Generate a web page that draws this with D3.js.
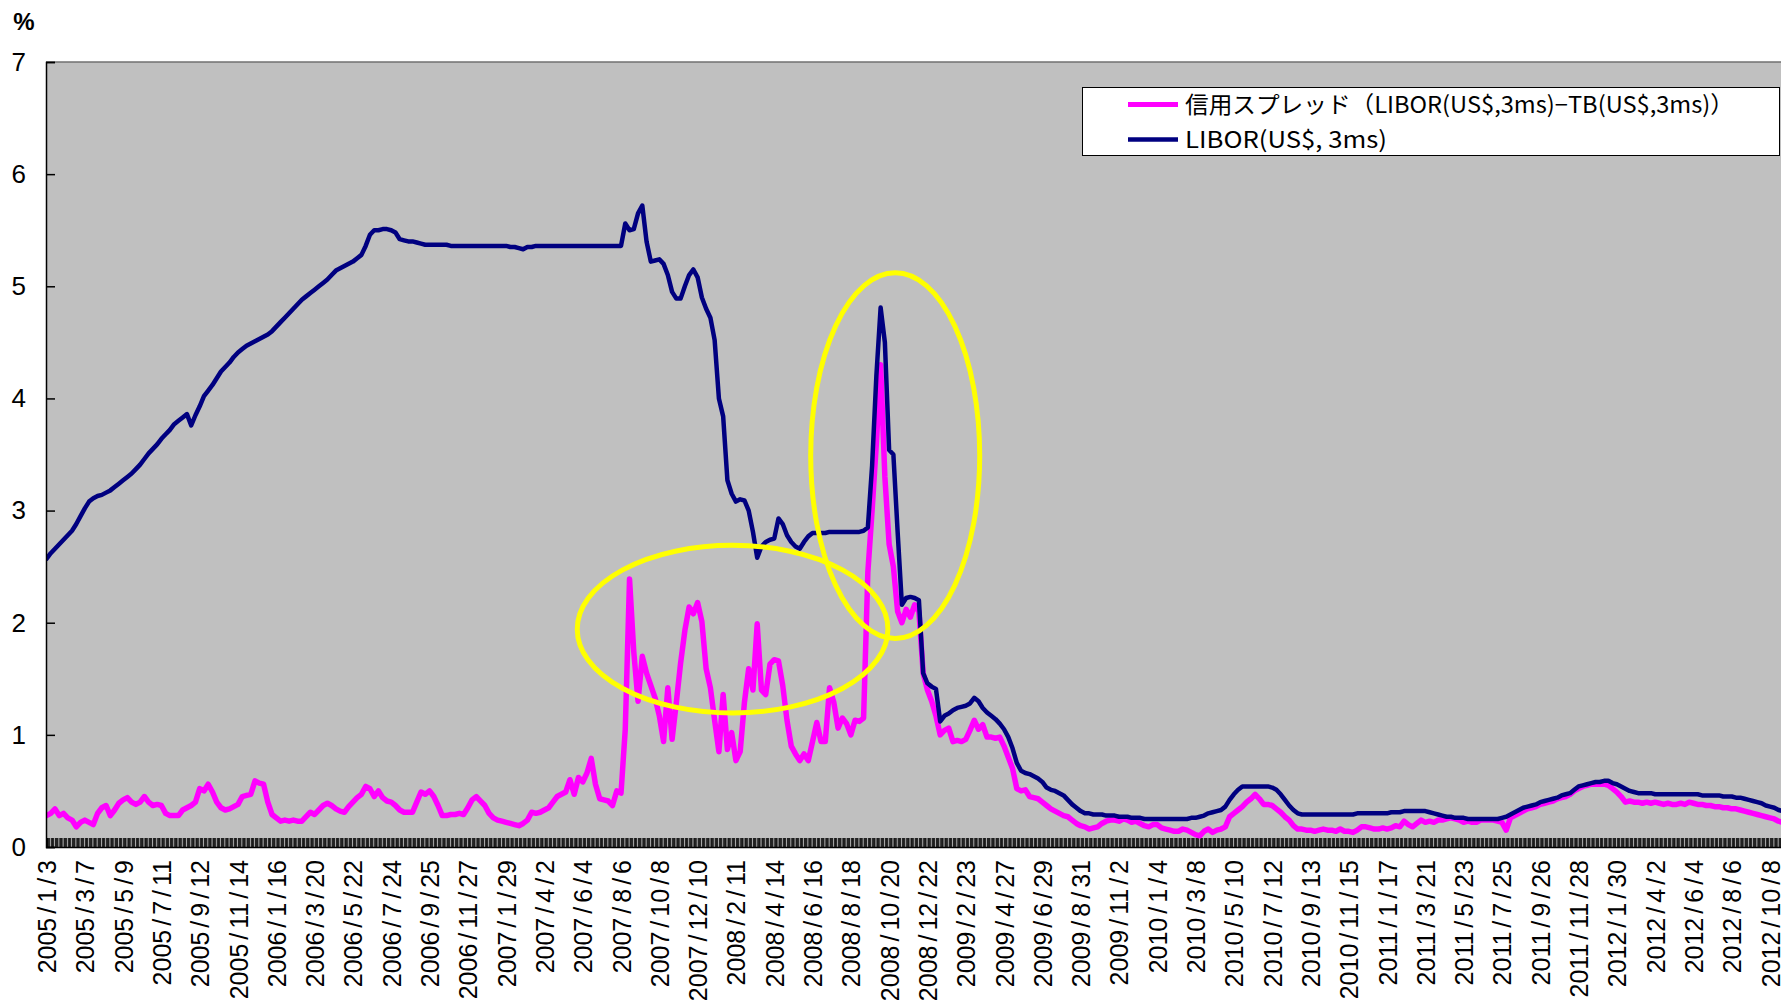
<!DOCTYPE html>
<html>
<head>
<meta charset="utf-8">
<script src="https://cdn.jsdelivr.net/npm/d3@7"></script>
<style>
  html, body { margin: 0; padding: 0; background: #ffffff; }
  svg { display: block; }
</style>
</head>
<body>
<svg id="chart" width="1781" height="1005"></svg>
<script>
// Weekly readings (Mondays of each calendar year), in percent.
const years = [2005, 2006, 2007, 2008, 2009, 2010, 2011, 2012];

const libor2005 = [2.57,2.62,2.66,2.70,2.74,2.78,2.82,2.88,2.95,3.02, 3.08,3.11,3.13,3.14,3.16,3.18,3.21,3.24,3.27,3.30,
  3.33,3.37,3.41,3.46,3.51,3.55,3.59,3.64,3.68,3.72, 3.77,3.80,3.83,3.86,3.76,3.85,3.93,4.02,4.07,4.12,
  4.18,4.24,4.28,4.32,4.37,4.41,4.44,4.47,4.49,4.51, 4.53,4.55];
const libor2006 = [4.57,4.60,4.64,4.68,4.72,4.76,4.80,4.84,4.88,4.91, 4.94,4.97,5.00,5.03,5.06,5.10,5.14,5.16,5.18,5.20,
  5.22,5.25,5.28,5.36,5.46,5.50,5.50,5.51,5.51,5.50, 5.48,5.42,5.41,5.40,5.40,5.39,5.38,5.37,5.37,5.37,
  5.37,5.37,5.37,5.36,5.36,5.36,5.36,5.36,5.36,5.36, 5.36,5.36];
const libor2007 = [5.36,5.36,5.36,5.36,5.36,5.35,5.35,5.34,5.33,5.35, 5.35,5.36,5.36,5.36,5.36,5.36,5.36,5.36,5.36,5.36,
  5.36,5.36,5.36,5.36,5.36,5.36,5.36,5.36,5.36,5.36, 5.36,5.36,5.56,5.50,5.51,5.65,5.72,5.40,5.22,5.23,
  5.24,5.20,5.10,4.95,4.89,4.89,5.00,5.10,5.15,5.08, 4.90,4.80,4.72];
const libor2008 = [4.52,4.00,3.84,3.27,3.15,3.08,3.10,3.09,3.00,2.81, 2.58,2.68,2.72,2.74,2.75,2.93,2.88,2.78,2.72,2.68,
  2.66,2.72,2.77,2.80,2.80,2.80,2.80,2.81,2.81,2.81, 2.81,2.81,2.81,2.81,2.81,2.82,2.85,3.40,4.20,4.81,
  4.50,3.54,3.50,2.81,2.16,2.22,2.23,2.22,2.20,1.55, 1.46,1.43];
const libor2009 = [1.41,1.12,1.17,1.19,1.22,1.24,1.25,1.26,1.28,1.33, 1.30,1.24,1.20,1.17,1.14,1.10,1.05,0.98,0.88,0.75,
  0.68,0.66,0.65,0.63,0.61,0.58,0.53,0.51,0.50,0.48, 0.46,0.42,0.38,0.35,0.32,0.30,0.30,0.29,0.29,0.29,
  0.28,0.28,0.28,0.27,0.27,0.27,0.26,0.26,0.26,0.25, 0.25,0.25];
const libor2010 = [0.25,0.25,0.25,0.25,0.25,0.25,0.25,0.25,0.26,0.26, 0.27,0.28,0.30,0.31,0.32,0.33,0.36,0.42,0.47,0.51,
  0.54,0.54,0.54,0.54,0.54,0.54,0.54,0.53,0.51,0.47, 0.42,0.37,0.33,0.30,0.29,0.29,0.29,0.29,0.29,0.29,
  0.29,0.29,0.29,0.29,0.29,0.29,0.29,0.30,0.30,0.30, 0.30,0.30];
const libor2011 = [0.30,0.30,0.30,0.31,0.31,0.31,0.32,0.32,0.32,0.32, 0.32,0.32,0.31,0.30,0.29,0.28,0.27,0.27,0.26,0.26,
  0.26,0.25,0.25,0.25,0.25,0.25,0.25,0.25,0.25,0.26, 0.27,0.29,0.31,0.33,0.35,0.36,0.37,0.38,0.40,0.41,
  0.42,0.43,0.44,0.46,0.47,0.48,0.51,0.54,0.55,0.56, 0.57,0.58];
const libor2012 = [0.58,0.59,0.59,0.57,0.56,0.54,0.52,0.50,0.49,0.48, 0.48,0.48,0.48,0.47,0.47,0.47,0.47,0.47,0.47,0.47,
  0.47,0.47,0.47,0.47,0.46,0.46,0.46,0.46,0.46,0.45, 0.45,0.45,0.44,0.44,0.43,0.42,0.41,0.40,0.39,0.37,
  0.36,0.35,0.33,0.32];

const spread2005 = [0.28,0.30,0.34,0.28,0.30,0.26,0.24,0.18,0.22,0.24, 0.22,0.20,0.30,0.35,0.37,0.28,0.33,0.39,0.42,0.44,
  0.40,0.38,0.40,0.45,0.40,0.37,0.38,0.37,0.30,0.28, 0.28,0.28,0.33,0.35,0.37,0.40,0.52,0.50,0.56,0.49,
  0.40,0.35,0.33,0.34,0.36,0.38,0.45,0.46,0.47,0.59, 0.57,0.56];
const spread2006 = [0.40,0.29,0.26,0.23,0.24,0.23,0.24,0.23,0.23,0.27, 0.31,0.29,0.33,0.37,0.39,0.37,0.34,0.32,0.31,0.36,
  0.40,0.44,0.47,0.54,0.52,0.45,0.50,0.44,0.41,0.40, 0.37,0.33,0.31,0.31,0.31,0.40,0.49,0.47,0.50,0.45,
  0.37,0.28,0.28,0.29,0.29,0.30,0.29,0.35,0.42,0.45, 0.41,0.37];
const spread2007 = [0.30,0.26,0.24,0.23,0.22,0.21,0.20,0.19,0.21,0.24, 0.31,0.30,0.31,0.33,0.35,0.40,0.45,0.47,0.49,0.60,
  0.47,0.62,0.58,0.66,0.79,0.56,0.43,0.42,0.41,0.37, 0.50,0.48,1.05,2.39,1.74,1.30,1.70,1.55,1.44,1.33,
  1.17,0.94,1.42,0.96,1.29,1.64,1.93,2.14,2.08,2.18, 2.01,1.59,1.42];
const spread2008 = [1.13,0.85,1.36,0.87,1.02,0.77,0.85,1.29,1.59,1.40, 1.99,1.40,1.36,1.63,1.67,1.66,1.44,1.13,0.90,0.83,
  0.77,0.83,0.77,0.94,1.11,0.94,0.94,1.42,1.29,1.06, 1.15,1.10,1.00,1.13,1.12,1.15,2.45,3.00,3.60,4.30,
  3.30,2.70,2.50,2.10,2.00,2.12,2.05,2.16,2.10,1.55, 1.40,1.30];
const spread2009 = [1.17,1.00,1.04,1.06,0.94,0.95,0.94,0.96,1.04,1.13, 1.05,1.09,0.98,0.98,0.97,0.98,0.90,0.80,0.70,0.52,
  0.50,0.51,0.45,0.44,0.43,0.40,0.37,0.34,0.32,0.30, 0.28,0.27,0.24,0.21,0.19,0.18,0.16,0.17,0.18,0.21,
  0.23,0.24,0.24,0.23,0.25,0.24,0.22,0.23,0.21,0.19, 0.18,0.20];
const spread2010 = [0.20,0.17,0.16,0.15,0.14,0.14,0.16,0.15,0.13,0.11, 0.10,0.14,0.16,0.13,0.15,0.16,0.18,0.27,0.30,0.33,
  0.36,0.40,0.43,0.47,0.43,0.38,0.38,0.37,0.34,0.31, 0.27,0.24,0.19,0.16,0.16,0.15,0.15,0.14,0.15,0.16,
  0.15,0.15,0.14,0.16,0.14,0.14,0.13,0.15,0.18,0.18, 0.17,0.16];
const spread2011 = [0.16,0.17,0.16,0.17,0.19,0.18,0.23,0.20,0.18,0.21, 0.24,0.22,0.23,0.22,0.24,0.24,0.25,0.26,0.25,0.24,
  0.22,0.23,0.22,0.22,0.24,0.24,0.24,0.24,0.23,0.22, 0.15,0.26,0.28,0.30,0.32,0.34,0.35,0.36,0.38,0.39,
  0.40,0.41,0.43,0.44,0.45,0.47,0.50,0.52,0.54,0.55, 0.56,0.56];
const spread2012 = [0.56,0.56,0.55,0.52,0.49,0.45,0.40,0.41,0.40,0.40, 0.39,0.40,0.39,0.40,0.39,0.38,0.39,0.38,0.38,0.39,
  0.38,0.40,0.39,0.38,0.38,0.37,0.37,0.36,0.36,0.35, 0.35,0.34,0.34,0.33,0.32,0.31,0.30,0.29,0.28,0.27,
  0.26,0.25,0.23,0.22];

// Category labels along the date axis.
const tickLabels = ["2005/1/3","2005/3/7","2005/5/9","2005/7/11","2005/9/12","2005/11/14",
  "2006/1/16","2006/3/20","2006/5/22","2006/7/24","2006/9/25","2006/11/27",
  "2007/1/29","2007/4/2","2007/6/4","2007/8/6","2007/10/8","2007/12/10",
  "2008/2/11","2008/4/14","2008/6/16","2008/8/18","2008/10/20","2008/12/22",
  "2009/2/23","2009/4/27","2009/6/29","2009/8/31","2009/11/2",
  "2010/1/4","2010/3/8","2010/5/10","2010/7/12","2010/9/13","2010/11/15",
  "2011/1/17","2011/3/21","2011/5/23","2011/7/25","2011/9/26","2011/11/28",
  "2012/1/30","2012/4/2","2012/6/4","2012/8/6","2012/10/8"];
const yTicks = [0, 1, 2, 3, 4, 5, 6, 7];

const seriesNames = ["信用スプレッド（LIBOR(US$,3ms)−TB(US$,3ms)）", "LIBOR(US$, 3ms)"];
const seriesColors = ["#FF00FF", "#000080"];

// Highlighted periods (date span and value span of each ring).
const highlightFrom = ["2007-05-26", "2008-06-13"];
const highlightTo   = ["2008-10-18", "2009-03-18"];
const highlightLow  = [1.195, 1.86];
const highlightHigh = [2.69, 5.12];

const svg = d3.select("#chart");
const parseDay = s => { const p = s.split(/[\/-]/).map(Number); return new Date(Date.UTC(p[0], p[1] - 1, p[2])); };

function buildSeries(perYear) {
  return perYear.flatMap((vals, i) => {
    const yr = years[i];
    const mondays = d3.utcMonday.range(new Date(Date.UTC(yr, 0, 1)), new Date(Date.UTC(yr + 1, 0, 1)));
    return vals.map((v, j) => ({ date: mondays[j], value: v }));
  });
}
const spread = buildSeries([spread2005, spread2006, spread2007, spread2008, spread2009, spread2010, spread2011, spread2012]);
const libor  = buildSeries([libor2005, libor2006, libor2007, libor2008, libor2009, libor2010, libor2011, libor2012]);

const plotLeft = 46, plotTop = 62, plotBottom = 847, plotRight = 1795;
const x = d3.scaleUtc()
  .domain([new Date(Date.UTC(2005, 0, 3)), new Date(Date.UTC(2012, 9, 26))])
  .range([46.5, 1781]);
const y = d3.scaleLinear().domain([0, 7]).range([plotBottom, plotTop]);

// plot area
svg.append("rect")
  .attr("x", plotLeft).attr("y", plotTop)
  .attr("width", plotRight - plotLeft).attr("height", plotBottom - plotTop)
  .attr("fill", "#C0C0C0");
svg.append("line")
  .attr("x1", plotLeft).attr("x2", plotRight)
  .attr("y1", plotTop).attr("y2", plotTop)
  .attr("stroke", "#707070").attr("stroke-width", 1.5);

svg.append("defs").append("clipPath").attr("id", "plotClip")
  .append("rect").attr("x", plotLeft).attr("y", plotTop)
  .attr("width", plotRight - plotLeft).attr("height", plotBottom - plotTop);

// dense daily tick band on the category axis
const weekdays = d3.utcDay.range(x.domain()[0], x.domain()[1]).filter(d => d.getUTCDay() % 6 !== 0);
const tickBand = svg.append("g")
  .attr("transform", `translate(0,${plotBottom})`)
  .call(d3.axisBottom(x).tickValues(weekdays).tickSize(-9).tickFormat(""));
tickBand.select(".domain").attr("stroke", "#000").attr("stroke-width", 1.5);
tickBand.selectAll(".tick line").attr("stroke", "#000").attr("stroke-width", 0.75);

// series lines
const line = d3.line().x(d => x(d.date)).y(d => y(d.value));
const lines = svg.append("g").attr("clip-path", "url(#plotClip)");
lines.append("path").datum(spread)
  .attr("d", line).attr("fill", "none")
  .attr("stroke", seriesColors[0]).attr("stroke-width", 5.5)
  .attr("stroke-linejoin", "round").attr("stroke-linecap", "round");
lines.append("path").datum(libor)
  .attr("d", line).attr("fill", "none")
  .attr("stroke", seriesColors[1]).attr("stroke-width", 4.5)
  .attr("stroke-linejoin", "round").attr("stroke-linecap", "round");

// rings around the stress periods
highlightFrom.forEach((f, i) => {
  const x0 = x(parseDay(f)), x1 = x(parseDay(highlightTo[i]));
  const y0 = y(highlightHigh[i]), y1 = y(highlightLow[i]);
  svg.append("ellipse")
    .attr("cx", (x0 + x1) / 2).attr("cy", (y0 + y1) / 2)
    .attr("rx", (x1 - x0) / 2).attr("ry", (y1 - y0) / 2)
    .attr("fill", "none").attr("stroke", "#FFFF00").attr("stroke-width", 5);
});

// value axis
const yAxis = svg.append("g")
  .attr("transform", `translate(${plotLeft},0)`)
  .call(d3.axisLeft(y).tickValues(yTicks).tickSize(-9).tickPadding(20).tickFormat(d3.format("d")));
yAxis.select(".domain").attr("stroke", "#000").attr("stroke-width", 1.5);
yAxis.selectAll(".tick line").attr("stroke", "#000").attr("stroke-width", 1.5);
yAxis.selectAll(".tick text")
  .attr("font-family", "Liberation Sans, Arial, sans-serif")
  .attr("font-size", 26).attr("fill", "#000");

svg.append("text")
  .attr("x", 24).attr("y", 29.5).attr("text-anchor", "middle")
  .attr("font-family", "Liberation Sans, Arial, sans-serif")
  .attr("font-size", 24).attr("font-weight", "bold")
  .text("%");

// date labels, rotated
const labelDates = tickLabels.map(parseDay);
const xAxis = svg.append("g")
  .attr("transform", `translate(0,${plotBottom})`)
  .call(d3.axisBottom(x).tickValues(labelDates).tickSize(0).tickFormat((d, i) => tickLabels[i]));
xAxis.select(".domain").remove();
xAxis.selectAll(".tick text")
  .attr("font-family", "Liberation Sans, Arial, sans-serif")
  .attr("font-size", 25).attr("fill", "#000")
  .attr("transform", "rotate(-90)")
  .attr("text-anchor", "end")
  .attr("x", -13).attr("y", 0).attr("dy", "0.36em")
  .each(function (d, i) {
    const t = d3.select(this);
    const parts = tickLabels[i].split("/");
    t.text(null);
    parts.forEach((p, k) => {
      if (k > 0) t.append("tspan").attr("dx", 4).text("/");
      t.append("tspan").attr("dx", k > 0 ? 4 : 0).text(p);
    });
  });

// legend
const legend = svg.append("g");
legend.append("rect")
  .attr("x", 1082.5).attr("y", 87.5).attr("width", 697).attr("height", 68)
  .attr("fill", "#fff").attr("stroke", "#000").attr("stroke-width", 1);
const legendY = [104.5, 139.5];
const legendLen = [549, 202];
seriesNames.forEach((name, i) => {
  legend.append("line")
    .attr("x1", 1128).attr("x2", 1178)
    .attr("y1", legendY[i]).attr("y2", legendY[i])
    .attr("stroke", seriesColors[i]).attr("stroke-width", i === 0 ? 5 : 4.5);
  legend.append("text")
    .attr("x", 1185).attr("y", legendY[i]).attr("dy", "0.36em")
    .attr("font-family", "Noto Sans CJK JP, sans-serif")
    .attr("font-size", 23)
    .attr("textLength", legendLen[i]).attr("lengthAdjust", "spacingAndGlyphs")
    .text(name);
});
</script>
</body>
</html>
